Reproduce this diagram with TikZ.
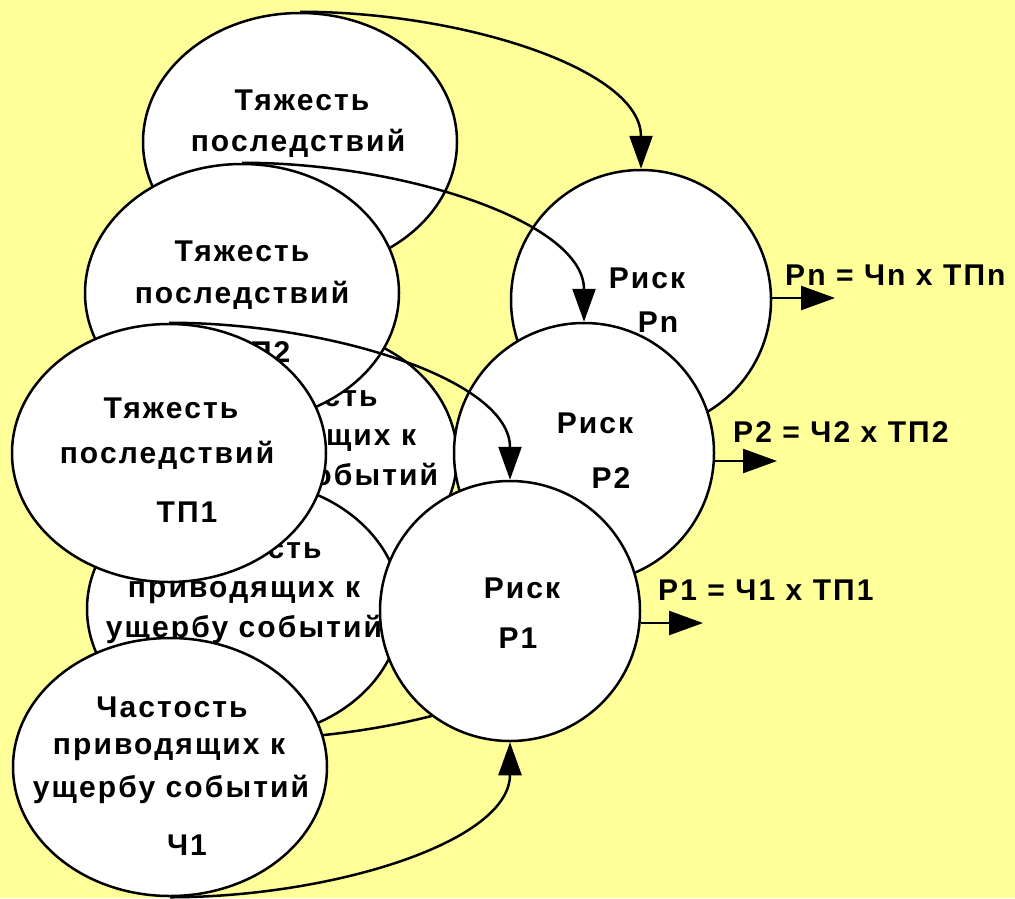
\documentclass[tikz,border=0pt]{standalone}
\usepackage{fontspec}
\setmainfont{Liberation Sans}[LetterSpace=7]
\usetikzlibrary{arrows.meta,calc,shapes.geometric}
\definecolor{bg}{RGB}{255,255,153}
\pgfdeclarelayer{low}
\pgfdeclarelayer{mid}
\pgfsetlayers{low,mid,main}
\begin{document}
\begin{tikzpicture}[x=1pt,y=-1pt,
  ell/.style={ellipse,draw,fill=white,line width=2.5pt,minimum width=314pt,minimum height=258pt,inner sep=0pt},
  rc/.style={circle,draw,fill=white,line width=2.5pt,minimum size=260pt,inner sep=0pt},
  txt/.style={anchor=base,inner sep=0pt,font=\bfseries\fontsize{30}{36}\selectfont},
  conn/.style={line width=2.5pt,-{Triangle[length=33pt,width=23pt]}},
  outarr/.style={line width=2.5pt,-{Triangle[length=34pt,width=24pt]}}
]
\useasboundingbox (0,0) rectangle (1015,898);
\begin{pgfonlayer}{low}
\fill[bg] (0,0) rectangle (1015,898);
% TPn
\node[ell] (A) at (300,142) {};
\node[txt] (A1) at ($(A)+(2,-32)$) {Тяжесть};
\node[txt] (A2) at ($(A)+(-2,9)$) {последствий};
% Ch2
\node[ell] (C) at (300,457) {};
\node[txt] (C1) at ($(C)+(2,-51)$) {Частость};
\node[txt] (C2) at ($(C)+(0,-12)$) {приводящих к};
\node[txt] (C3) at ($(C)+(0,28)$) {ущербу событий};
% TP2
\node[ell] (B) at (242,293) {};
\node[txt] (B1) at ($(B)+(0,-32)$) {Тяжесть};
\node[txt] (B2) at ($(B)+(0,10)$) {последствий};
\node[txt] (B3) at ($(B)+(18,69)$) {ТП2};
% Chn
\node[ell] (D) at (244,609) {};
\node[txt] (D1) at ($(D)+(2,-51)$) {Частость};
\node[txt] (D2) at ($(D)+(0,-12)$) {приводящих к};
\node[txt] (D3) at ($(D)+(0,28)$) {ущербу событий};
\end{pgfonlayer}
% Ch1
\node[ell] (F) at (170,767) {};
\node[txt] (F1) at ($(F)+(2,-50)$) {Частость};
\node[txt] (F2) at ($(F)+(-1,-13)$) {приводящих к};
\node[txt] (F3) at ($(F)+(1,30)$) {ущербу событий};
\node[txt] (F4) at ($(F)+(17,88)$) {Ч1};
% TP1
\node[ell] (T) at (169,453) {};
\node[txt] (T1) at ($(T)+(2,-35)$) {Тяжесть};
\node[txt] (T2) at ($(T)+(-2,10)$) {последствий};
\node[txt] (T3) at ($(T)+(18,69)$) {ТП1};
% risks
\node[rc] (Pn) at (641,300) {};
\node[txt] (Pn1) at (647,288) {Риск};
\node[txt] (Pn2) at (658,332) {Рn};
\node[rc] (P2) at (584,453) {};
\node[txt] (P21) at (595,433) {Риск};
\node[txt] (P22) at (611,488) {Р2};
\node[rc] (P1) at (510,611) {};
\node[txt] (P11) at (522,598) {Риск};
\node[txt] (P12) at (518,648) {Р1};
% outputs
\coordinate (on) at (835,298);
\coordinate (o2) at (777,461);
\coordinate (o1) at (703,623);
\draw[outarr] (Pn.east |- on) -- (on);
\draw[outarr] (P2.east |- o2) -- (o2);
\draw[outarr] (P1.east |- o1) -- (o1);
\node[txt,anchor=base west] (Ln) at (785,285) {Рn = Чn x ТПn};
\node[txt,anchor=base west] (L2) at (733,442) {Р2 = Ч2 x ТП2};
\node[txt,anchor=base west] (L1) at (658,600) {Р1 = Ч1 x ТП1};
% connectors
\draw[conn] (A.north) .. controls +(161,0) and +(0,-100) .. (Pn.north);
\draw[conn] (B.north) .. controls +(161,0) and +(0,-100) .. (P2.north);
\draw[conn] (T.north) .. controls +(161,0) and +(0,-100) .. (P1.north);
\draw[conn] (F.south) .. controls +(161,0) and +(0,100) .. (P1.south);
\begin{pgfonlayer}{mid}
\draw[conn] (D.south) .. controls +(161,0) and +(0,100) .. (P2.south);
\end{pgfonlayer}
\end{tikzpicture}
\end{document}
